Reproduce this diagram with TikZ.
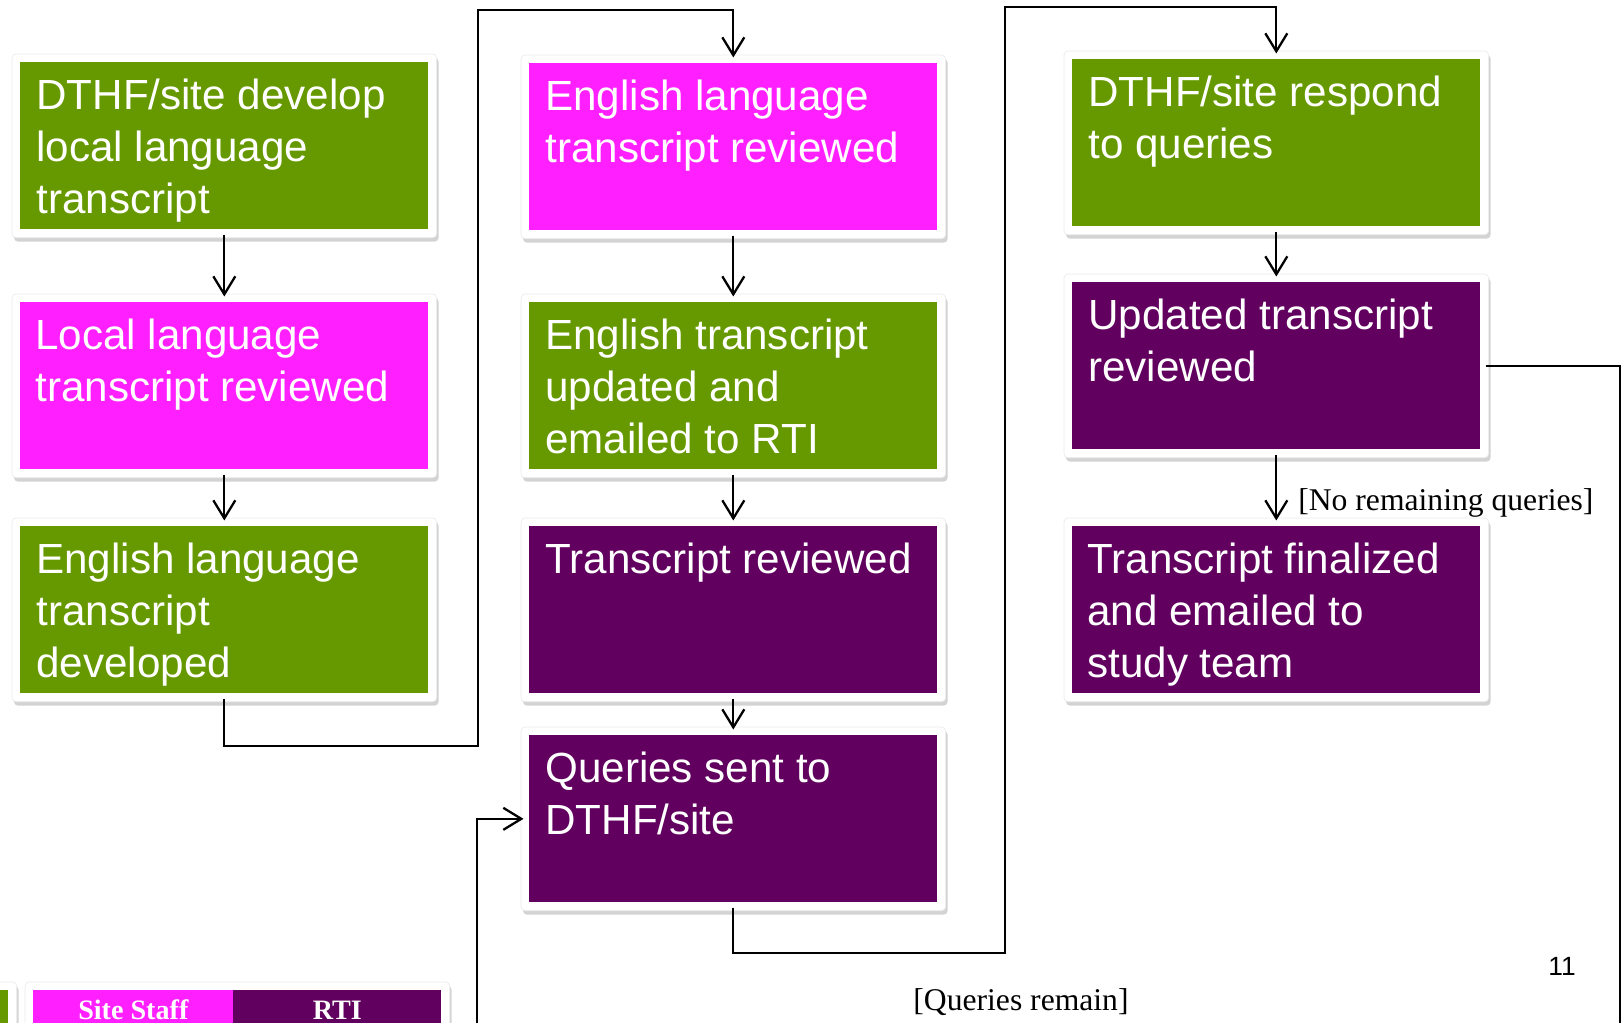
\documentclass[tikz,border=0pt]{standalone}
\usepackage{fontspec}
\setmainfont{Liberation Serif}
\setsansfont{Liberation Sans}
\usetikzlibrary{arrows.meta, positioning, backgrounds, shadows, calc}
\definecolor{SG}{RGB}{102,153,0}
\definecolor{SP}{RGB}{255,31,255}
\definecolor{RP}{RGB}{97,0,94}

\begin{document}
\begin{tikzpicture}[
  x=0.02cm, y=-0.02cm,
  box/.style={fill=#1, draw=none, minimum width=8.16cm, minimum height=3.34cm,
              anchor=north west, inner sep=0pt},
  txt/.style={text=white, anchor=north west, align=left, inner sep=0pt,
              font=\sffamily\fontsize{24}{29.5}\selectfont},
  frame/.style={fill=white, draw=black!8, rounded corners=0.08cm,
                drop shadow={shadow xshift=0.04cm, shadow yshift=-0.08cm, opacity=0.35}},
  arr/.style={-{Straight Barb[length=0.36cm, width=0.44cm]}, line width=1.3pt,
              shorten <=0.1cm, shorten >=0.11cm},
  cond/.style={font=\fontsize{18}{22}\selectfont, inner sep=0pt},
  leg/.style={text=white, inner sep=0pt, anchor=base,
              font=\bfseries\fontsize{16}{19}\selectfont}
]
\useasboundingbox (0,0) rectangle (1624,1023);
\clip (0,0) rectangle (1624,1023);

% Column 1
\node[box=SG] (b1) at (20,62)  {};
\node[box=SP] (b2) at (20,302) {};
\node[box=SG] (b3) at (20,526) {};
% Column 2
\node[box=SP] (b4) at (529,63)  {};
\node[box=SG] (b5) at (529,302) {};
\node[box=RP] (b6) at (529,526) {};
\node[box=RP] (b7) at (529,735) {};
% Column 3
\node[box=SG] (b8)  at (1072,59)  {};
\node[box=RP] (b9)  at (1072,282) {};
\node[box=RP] (b10) at (1072,526) {};

\node[txt] (t1)  at ([shift={(16,17)}]b1.north west)  {DTHF/site develop\\local language\\transcript};
\node[txt] (t2)  at ([shift={(15,17)}]b2.north west)  {Local language\\transcript reviewed};
\node[txt] (t3)  at ([shift={(16,17)}]b3.north west)  {English language\\transcript\\developed};
\node[txt] (t4)  at ([shift={(16,17)}]b4.north west)  {English language\\transcript reviewed};
\node[txt] (t5)  at ([shift={(16,17)}]b5.north west)  {English transcript\\updated and\\emailed to RTI};
\node[txt] (t6)  at ([shift={(16,17)}]b6.north west)  {Transcript reviewed};
\node[txt] (t7)  at ([shift={(16,17)}]b7.north west)  {Queries sent to\\DTHF/site};
\node[txt] (t8)  at ([shift={(16,17)}]b8.north west)  {DTHF/site respond\\to queries};
\node[txt] (t9)  at ([shift={(16,17)}]b9.north west)  {Updated transcript\\reviewed};
\node[txt] (t10) at ([shift={(15,17)}]b10.north west) {Transcript finalized\\and emailed to\\study team};

% Legend
\node[box=SG, minimum width=2.16cm, minimum height=1.8cm] (lgs) at (-100,990) {};
\node[box=SP, minimum width=4cm, minimum height=1.8cm]    (lss) at (33,990)   {};
\node[box=RP, minimum width=4.16cm, minimum height=1.8cm] (lrt) at (233,990)  {};
\node[leg] (lsst) at (lss.north |- 0,1019) {Site Staff};
\node[leg] (lrtt) at (lrt.north |- 0,1019) {RTI};

\begin{scope}[on background layer]
  \clip (0,0) rectangle (1624,1023);
  \foreach \i in {1,...,10}
    \path[frame] ([shift={(-8,-8)}]b\i.north west) rectangle ([shift={(8,8)}]b\i.south east);
  \path[frame] ([shift={(-8,-8)}]lss.north west) rectangle ([shift={(8,8)}]lrt.south east);
  \path[frame] ([shift={(-8,-8)}]lgs.north west) rectangle ([shift={(8,8)}]lgs.south east);
\end{scope}

\draw[arr] (b1.south) -- (b2.north);
\draw[arr] (b2.south) -- (b3.north);
\draw[arr] (b3.south) -- ++(0,52) -| (478,10) -| (b4.north);
\draw[arr] (b4.south) -- (b5.north);
\draw[arr] (b5.south) -- (b6.north);
\draw[arr] (b6.south) -- (b7.north);
\draw[arr] (b7.south) |- (1005,953) -- (1005,7) -| (b8.north);
\draw[arr] (b8.south) -- (b9.north);
\draw[arr] (b9.south) -- (b10.north);
\draw[arr] (b9.east) -| (1620,1100) -- (477,1100) |- (b7.west);

% Conditions
\node[cond, anchor=base west] (nq) at (1298,511) {[No remaining queries]};
\node[cond, anchor=base] (qr) at (1021,1010) {[Queries remain]};
\node[font=\sffamily\fontsize{15}{18}\selectfont, anchor=base west, inner sep=0pt]
  (pg) at (1548,975) {11};
\end{tikzpicture}
\end{document}
